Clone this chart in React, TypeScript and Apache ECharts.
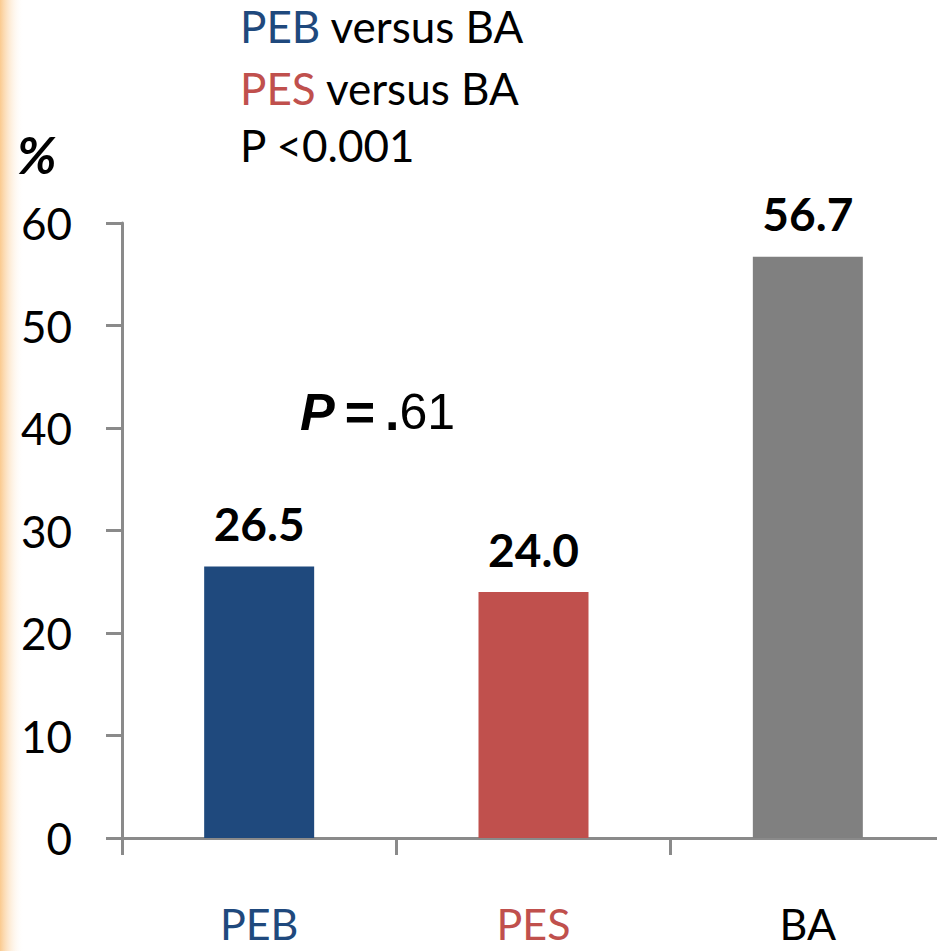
import React, { useEffect, useRef } from "react";
import * as echarts from "echarts";

const categories = ["PEB", "PES", "BA"];
const values = [26.5, 24.0, 56.7];
const barColors = ["#1F497D", "#C0504D", "#808080"];
const labelColors = ["#1F497D", "#C0504D", "#000000"];
const yMin = 0;
const yMax = 60;
const yInterval = 10;

const FONT = "Lato, 'Open Sans', sans-serif";
const ARIAL = "'Liberation Sans', Arial, sans-serif";
const AXIS_COLOR = "#8a8a8a";

// The drawing surface runs a few pixels past the right edge of the window,
// so the last category band is cut just like the plot area it belongs to.
const WIDTH = 945;
const HEIGHT = 951;

export default function App() {
  const ref = useRef<HTMLDivElement>(null);

  useEffect(() => {
    if (!ref.current) return;
    const chart = echarts.init(ref.current, undefined, { renderer: "svg" });

    const richCats: Record<string, any> = {};
    categories.forEach((c, i) => {
      richCats["c" + i] = { color: labelColors[i], fontSize: 43, lineHeight: 36, fontFamily: FONT };
    });

    chart.setOption({
      animation: false,
      backgroundColor: "#ffffff",
      grid: { left: 122, top: 223, right: 0, bottom: 113 },
      xAxis: {
        type: "category",
        data: categories,
        axisLine: { show: true, lineStyle: { color: AXIS_COLOR, width: 3 } },
        axisTick: { show: true, length: 17, alignWithLabel: false, lineStyle: { color: AXIS_COLOR, width: 3 } },
        axisLabel: {
          margin: 67,
          lineHeight: 36,
          formatter: (v: string) => {
            const i = categories.indexOf(v);
            return `{c${i}|${v}}`;
          },
          rich: richCats,
        },
      },
      yAxis: {
        type: "value",
        min: yMin,
        max: yMax,
        interval: yInterval,
        axisLine: { show: true, lineStyle: { color: AXIS_COLOR, width: 3 } },
        axisTick: { show: true, length: 16, lineStyle: { color: AXIS_COLOR, width: 3 } },
        splitLine: { show: false },
        axisLabel: { color: "#000", fontSize: 44, fontFamily: FONT, margin: 50 },
      },
      series: [
        {
          type: "bar",
          barWidth: 110,
          data: values.map((v, i) => ({ value: v, itemStyle: { color: barColors[i] } })),
          label: {
            show: true,
            position: "top",
            distance: 20,
            color: "#000",
            fontSize: 46,
            fontWeight: "bold",
            fontFamily: FONT,
            formatter: (p: any) => Number(p.value).toFixed(1),
          },
        },
      ],
      graphic: [
        {
          type: "rect",
          left: 0,
          top: 0,
          shape: { width: 24, height: HEIGHT },
          style: {
            fill: new echarts.graphic.LinearGradient(0, 0, 1, 0, [
              { offset: 0, color: "rgba(250,196,130,0.9)" },
              { offset: 1, color: "rgba(255,255,255,0)" },
            ]),
          },
          silent: true,
        },
        {
          type: "text",
          left: 240,
          top: 4,
          style: {
            text: "{b|PEB} versus BA",
            fontSize: 44,
            fontFamily: FONT,
            fill: "#000",
            rich: { b: { fill: "#1F497D", fontSize: 44, fontFamily: FONT } },
          },
        },
        {
          type: "text",
          left: 240,
          top: 66,
          style: {
            text: "{r|PES} versus BA",
            fontSize: 44,
            fontFamily: FONT,
            fill: "#000",
            rich: { r: { fill: "#C0504D", fontSize: 44, fontFamily: FONT } },
          },
        },
        {
          type: "text",
          left: 240,
          top: 123,
          style: { text: "P <0.001", fontSize: 44, fontFamily: FONT, fill: "#000" },
        },
        {
          type: "text",
          left: 17,
          top: 128,
          style: {
            text: "%",
            fontSize: 52,
            fontFamily: FONT,
            fontWeight: "bold",
            fontStyle: "italic",
            fill: "#000",
          },
        },
        {
          type: "text",
          left: 300,
          top: 386,
          style: {
            text: "{p|P}{s| }{e|=}{s| }{e|.}{n|61}",
            fontSize: 50,
            fontFamily: ARIAL,
            fill: "#000",
            rich: {
              p: { fontSize: 52, fontWeight: "bold", fontStyle: "italic", fontFamily: ARIAL },
              s: { fontSize: 36, fontFamily: ARIAL },
              e: { fontSize: 52, fontWeight: "bold", fontFamily: ARIAL },
              n: { fontSize: 50, fontFamily: ARIAL },
            },
          },
        },
      ],
    });

    return () => chart.dispose();
  }, []);

  return (
    <div
      ref={ref}
      style={{ position: "fixed", left: 0, top: 0, width: WIDTH, height: HEIGHT }}
    />
  );
}
